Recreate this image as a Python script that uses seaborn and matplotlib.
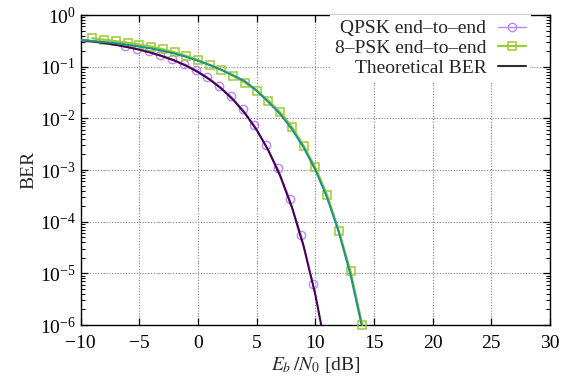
import numpy as np
import pandas as pd
import seaborn as sns
from matplotlib import pyplot as plt
from matplotlib.lines import Line2D
from matplotlib.ticker import LogLocator, MultipleLocator, NullFormatter

# theoretical curves, 1 dB steps
theory_ebn0 = [-10, -9, -8, -7, -6, -5, -4, -3, -2, -1, 0, 1, 2, 3, 4,
               5, 6, 7, 8, 9, 10, 11, 12, 13, 14]
qpsk_theory = [0.327, 0.308, 0.287, 0.264, 0.239, 0.213, 0.186, 0.158, 0.131,
               0.104, 0.0786, 0.0563, 0.0375, 0.0229, 0.0125, 0.00595, 0.00239,
               7.73e-4, 1.91e-4, 3.36e-5, 3.87e-6, 2.6e-7, np.nan, np.nan, np.nan]
psk8_theory = [0.33, 0.315, 0.30, 0.285, 0.265, 0.245, 0.225, 0.203, 0.18,
               0.155, 0.13, 0.108, 0.087, 0.068, 0.052, 0.0344, 0.0207, 0.0122,
               0.0062, 0.00275, 0.00101, 2.94e-4, 6.3e-5, 9.4e-6, 8.8e-7]

# simulated end-to-end points
qpsk_ebn0 = [-6.2, -5.2, -4.2, -3.2, -2.2, -1.2, -0.2, 0.8, 1.8, 2.8, 3.8,
             4.8, 5.8, 6.8, 7.8, 8.8, 9.8]
qpsk_ber = [0.25, 0.223, 0.197, 0.169, 0.141, 0.114, 0.088, 0.063, 0.0425,
            0.027, 0.0150, 0.0074, 0.0030, 0.00108, 2.8e-4, 5.4e-5, 6.3e-6]
psk8_ebn0 = [-9, -8, -7, -6, -5, -4, -3, -2, -1, 0, 1, 2, 3, 4, 5, 6, 7,
             8, 9, 10, 11, 12, 13, 14]
psk8_ber = [0.355, 0.333, 0.312, 0.291, 0.267, 0.245, 0.218, 0.19, 0.162,
            0.134, 0.108, 0.0863, 0.0661, 0.0491, 0.0344, 0.0220, 0.0131,
            0.0069, 0.00295, 0.00112, 3.3e-4, 6.7e-5, 1.1e-5, 1.0e-6]

sns.set_style('ticks')
plt.rcParams['font.family'] = ['Liberation Serif', 'DejaVu Serif']
plt.rcParams['mathtext.fontset'] = 'stix'
plt.rcParams['font.size'] = 14

fig = plt.figure(figsize=(5.75, 3.87), dpi=100)
ax = fig.add_axes([0.1403, 0.1602, 0.8162, 0.801])

C_QPSK_PTS = '#bb88f8'
C_8PSK_PTS = '#9acd32'
C_QPSK_TH = '#440154'
C_8PSK_TH = '#21918c'

sns.lineplot(x=qpsk_ebn0, y=qpsk_ber, ax=ax, color=C_QPSK_PTS, lw=1.0,
             marker='o', ms=6.0, mfc='none', mec=C_QPSK_PTS, mew=1.0,
             clip_on=False, zorder=3)
sns.lineplot(x=psk8_ebn0, y=psk8_ber, ax=ax, color=C_8PSK_PTS, lw=1.6,
             marker='s', ms=6.2, mfc='none', mec=C_8PSK_PTS, mew=1.1,
             clip_on=False, zorder=3)

th = pd.DataFrame({'x': theory_ebn0, 'qpsk': qpsk_theory, '8psk': psk8_theory})
sns.lineplot(data=th, x='x', y='qpsk', ax=ax, color=C_QPSK_TH, lw=1.5, zorder=4)
sns.lineplot(data=th, x='x', y='8psk', ax=ax, color=C_8PSK_TH, lw=1.5, zorder=4)

ax.set_yscale('log')
ax.set_xlim(-10, 30)
ax.set_ylim(1e-6, 1)
ax.xaxis.set_major_locator(MultipleLocator(5))
ax.yaxis.set_major_locator(LogLocator(base=10, numticks=10))
ax.yaxis.set_minor_locator(LogLocator(base=10, subs=np.arange(2, 10), numticks=20))
ax.yaxis.set_minor_formatter(NullFormatter())
ax.tick_params(which='both', direction='in', top=True, right=True, labelsize=14,
               colors='black')
ax.tick_params(which='major', length=5, width=0.9)
ax.tick_params(which='minor', length=3, width=0.7)
ax.tick_params(axis='x', pad=7)
for s in ax.spines.values():
    s.set_linewidth(1.0)
    s.set_color('black')

ax.grid(True, which='major', color='#808080', lw=0.8, ls=(0, (1, 1.5)))
ax.set_axisbelow(True)

ax.set_xlabel(r'$E_b\,/N_0$ [dB]', fontsize=14, labelpad=2)
ax.set_ylabel('BER', fontsize=14, labelpad=2)

handles = [
    Line2D([], [], color=C_QPSK_PTS, lw=1.0, marker='o', ms=6.0, mfc='none', mew=1.0),
    Line2D([], [], color=C_8PSK_PTS, lw=1.6, marker='s', ms=6.2, mfc='none', mew=1.1),
    Line2D([], [], color='#303030', lw=1.5),
]
labels = ['QPSK end\u2013to\u2013end', '8\u2013PSK end\u2013to\u2013end', 'Theoretical BER']
leg = ax.legend(handles, labels, loc='upper right', bbox_to_anchor=(0.96, 1.0),
                markerfirst=False, frameon=True, fancybox=False, edgecolor='none',
                facecolor='white', framealpha=1.0, fontsize=14, handlelength=1.45,
                handletextpad=0.6, labelspacing=0.1, borderpad=0.25,
                borderaxespad=0.0)
leg.set_zorder(5)

fig.savefig('out.png', dpi=100)
